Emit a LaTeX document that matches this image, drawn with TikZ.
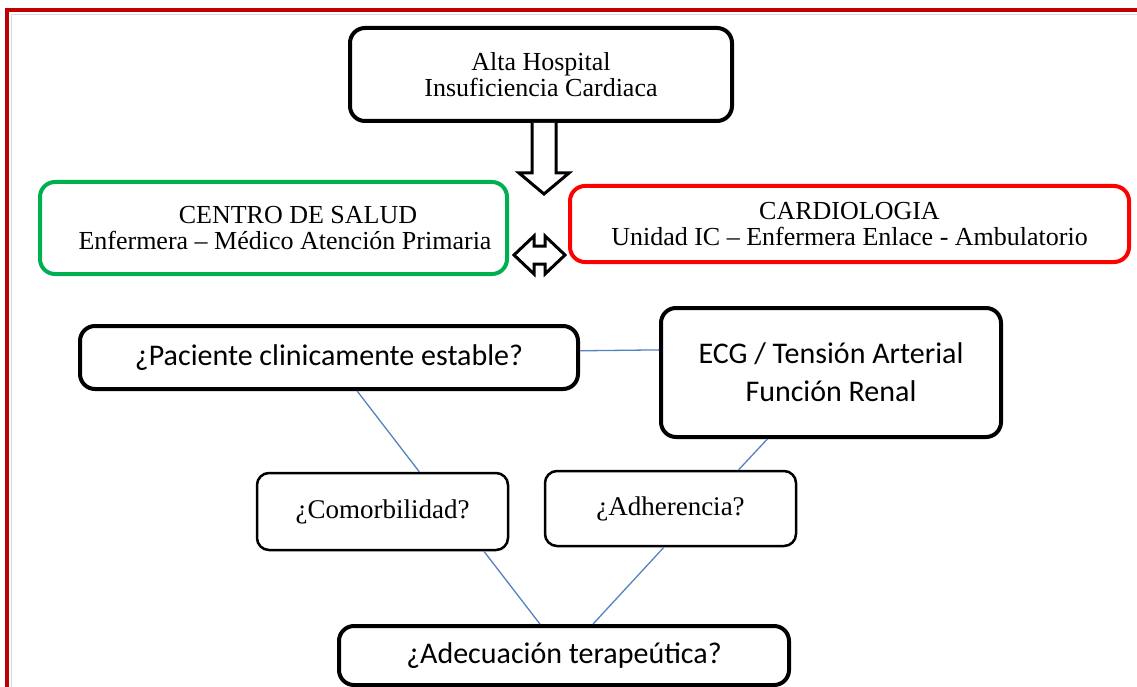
\documentclass[tikz,border=0pt]{standalone}
\usepackage{fontspec}
\setmainfont{Liberation Serif}
\newfontfamily\calfont{Carlito}
\usetikzlibrary{calc}
\definecolor{bordred}{RGB}{192,0,0}
\definecolor{boxgreen}{RGB}{0,176,80}
\definecolor{boxred}{RGB}{255,0,0}
\definecolor{linkblue}{RGB}{84,130,190}
\tikzset{
  box/.style={draw=black, line width=4pt, rounded corners=15pt, inner sep=0pt, align=center, fill=white},
  thinbox/.style={draw=black, line width=2.5pt, rounded corners=12pt, inner sep=0pt, align=center, fill=white},
  link/.style={draw=linkblue, line width=1.3pt},
  blockarrow/.style={draw=black, line width=3pt, fill=white, line join=miter},
  serifbig/.style={font=\fontsize{26}{25.5}\selectfont},
  sansbig/.style={font=\calfont\fontsize{30}{38}\selectfont},
  serifq/.style={font=\fontsize{27}{30}\selectfont},
}
\begin{document}
\begin{tikzpicture}[x=1pt,y=-1pt]
\useasboundingbox (0,0) rectangle (1137,687);
% page frame
\draw[bordred, line width=4pt] (7,687) -- (7,10) -- (1137,10);
\draw[black!14, line width=1pt] (11,687) -- (11,14.5) -- (1137,14.5);
% nodes
\node[box, serifbig, minimum width=382pt, minimum height=93pt] (alta) at (541,74.5) {Alta Hospital\\Insuficiencia Cardiaca};
\node[box, serifbig, draw=boxgreen, minimum width=467pt, minimum height=92pt] (cs) at (273.5,228) {\hspace*{49pt}CENTRO DE SALUD\\\hspace*{23pt}Enfermera -- Médico Atención Primaria};
\node[box, serifbig, draw=boxred, minimum width=559pt, minimum height=76pt] (card) at (849.5,224) {CARDIOLOGIA\\Unidad IC -- Enfermera Enlace - Ambulatorio};
\node[box, sansbig, minimum width=498pt, minimum height=63pt] (pac) at (329,357.5) {¿Paciente clinicamente estable?};
\node[box, sansbig, minimum width=340pt, minimum height=129pt] (ecg) at (831,372.5) {ECG / Tensión Arterial\\Función Renal};
\node[thinbox, serifq, minimum width=251pt, minimum height=77pt] (com) at (382.5,511.5) {¿Comorbilidad?};
\node[thinbox, serifq, minimum width=251pt, minimum height=75pt] (adh) at (670.5,508.5) {¿Adherencia?};
\node[box, sansbig, minimum width=450pt, minimum height=59pt] (ade) at (564,655.5) {¿Adecuación terapeútica?};
% block arrow down
\coordinate (da) at ($(alta.south)+(3,0)$);
\draw[blockarrow] ($(da)+(-12,0)$) -- ($(da)+(-12,50)$) -- ($(da)+(-25,50)$) -- ($(da)+(0,71)$) -- ($(da)+(25,50)$) -- ($(da)+(12,50)$) -- ($(da)+(12,0)$);
% double arrow
\coordinate (dl) at ($(cs.east)+(5,27)$);
\coordinate (dr) at ($(card.west)+(-3,31)$);
\draw[blockarrow] (dl) -- ($(dl)+(20,-19)$) -- ($(dl)+(20,-9)$) -- ($(dr)+(-20,-9)$) -- ($(dr)+(-20,-19)$) -- (dr) -- ($(dr)+(-20,19)$) -- ($(dr)+(-20,9)$) -- ($(dl)+(20,9)$) -- ($(dl)+(20,19)$) -- cycle;
% links
\draw[link] ($(pac.north east)!0.40!(pac.south east)$) -- ($(ecg.north west)!0.33!(ecg.south west)$);
\draw[link] ($(pac.south west)!0.556!(pac.south east)$) -- ($(com.north west)!0.645!(com.north east)$);
\draw[link] ($(ecg.south west)!0.315!(ecg.south east)$) -- ($(adh.north west)!0.769!(adh.north east)$);
\draw[link] ($(com.south west)!0.90!(com.south east)$) -- ($(ade.north west)!0.447!(ade.north east)$);
\draw[link] ($(adh.south west)!0.474!(adh.south east)$) -- ($(ade.north west)!0.564!(ade.north east)$);
\end{tikzpicture}
\end{document}
